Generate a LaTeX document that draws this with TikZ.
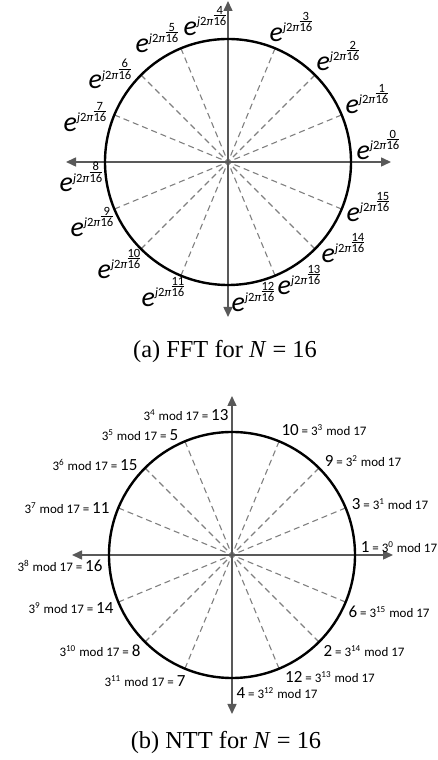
\documentclass[tikz,border=0pt]{standalone}
\usepackage{amsmath}
\usepackage{fontspec}
\setmainfont{Carlito}
\newfontfamily\capfont{Liberation Serif}
\usetikzlibrary{arrows.meta}

\definecolor{axisgray}{RGB}{89,89,89}
\definecolor{spokegray}{RGB}{128,128,128}

% small stacked fraction k/16
\newcommand\frk[1]{\vbox{\offinterlineskip\halign{\hfil##\hfil\cr #1\cr\noalign{\kern0.4pt\hrule height 0.5pt\kern0.5pt}16\cr}}}
\newcommand\fftlab[1]{{\fontsize{14}{14}\selectfont\itshape e}\raisebox{4.8pt}{\fontsize{6.3}{6.3}\selectfont\textit{j}2\textit{π}\frk{#1}}}
\newcommand\bignum{\fontsize{8.5}{9}\selectfont}
\newcommand\nttl[2]{3\textsuperscript{#1} mod 17 = {\bignum #2}}
\newcommand\nttr[2]{{\bignum #1} = 3\textsuperscript{#2} mod 17}

\begin{document}
\begin{tikzpicture}[x=0.5pt,y=0.5pt,
  axis/.style={draw=axisgray,line width=0.75pt,{Triangle[length=5pt,width=4.5pt]}-{Triangle[length=5pt,width=4.5pt]}},
  ring/.style={line width=1.2pt},
  spoke/.style={draw=spokegray,line width=0.55pt,dash pattern=on 3pt off 2pt,dash phase=1.5pt},
  fftl/.style={inner sep=0pt},
  ntt/.style={inner sep=0pt,font=\fontsize{6.5}{7}\selectfont},
  caption/.style={inner sep=0pt,font=\capfont\fontsize{12.2}{14}\selectfont}]
  \useasboundingbox (0,0) rectangle (438,760);

  % (a) FFT
  \coordinate (O1) at (228,598);
  \coordinate (xl1) at (66,598);  \coordinate (xr1) at (391,598);
  \coordinate (yt1) at (228,759); \coordinate (yb1) at (228,443);
  \foreach \k in {1,2,3,5,6,7,9,10,11,13,14,15}
    \draw[spoke] (O1) -- ++(\k*22.5:61.5pt);
  \draw[axis] (xl1) -- (xr1);
  \draw[axis] (yt1) -- (yb1);
  \draw[ring] (O1) circle[radius=61.5pt];
  \foreach \k/\x/\y in {0/378/615,1/367/661,2/338/704,3/291/733,4/205/739,
      5/157/722,6/110/686,7/85/643,8/81/583,9/92/538,10/119/496,11/163/468,
      12/253/463,13/299/480,14/343/512,15/368/553}
    \node[fftl] (f\k) at (\x,\y) {\fftlab{\k}};
  \node[caption] (capa) at (225,408) {(a) FFT for \textit{N} = 16};

  % (b) NTT
  \coordinate (O2) at (232,205);
  \coordinate (xl2) at (72,205);  \coordinate (xr2) at (393,205);
  \coordinate (yt2) at (232,364); \coordinate (yb2) at (232,46);
  \foreach \k in {1,2,3,5,6,7,9,10,11,13,14,15}
    \draw[spoke] (O2) -- ++(\k*22.5:61.5pt);
  \draw[axis] (xl2) -- (xr2);
  \draw[axis] (yt2) -- (yb2);
  \draw[ring] (O2) circle[radius=61.5pt];
  % right half: value = power
  \foreach \k/\v/\x/\y in {0/1/399/213,1/3/390/256,2/9/363/299,3/10/324/330,
      12/4/277/67,13/12/330/83,14/2/364/109,15/6/389/148}
    \node[ntt] (n\k) at (\x,\y) {\nttr{\v}{\k}};
  % left half: power = value
  \foreach \k/\v/\x/\y in {4/13/186/345,5/5/140/325,6/15/95/295,7/11/67/252,
      8/16/60/194,9/14/71/152,10/8/100/109,11/7/145/79}
    \node[ntt] (n\k) at (\x,\y) {\nttl{\k}{\v}};
  \node[caption] (capb) at (226,17) {(b) NTT for \textit{N} = 16};
\end{tikzpicture}
\end{document}
